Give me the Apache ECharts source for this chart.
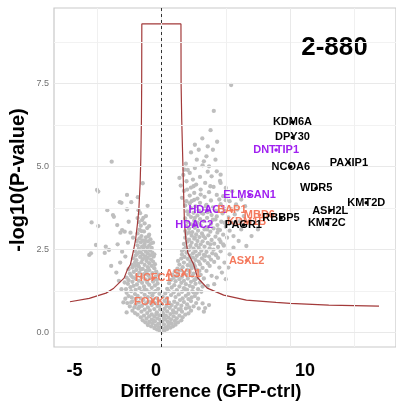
<!DOCTYPE html>
<html>
<head>
<meta charset="utf-8">
<script src="https://cdn.jsdelivr.net/npm/echarts@6/dist/echarts.min.js"></script>
<style>
html,body{margin:0;padding:0;background:#fff;}
#c{width:396px;height:407px;}
</style>
</head>
<body>
<div id="c"></div>
<script>
// ---------------- DATA ----------------
const panelTitle = '2-880';
const xAxisTitle = 'Difference (GFP-ctrl)';
const yAxisTitle = '-log10(P-value)';
const bigXTickLabels = ['-5', '0', '5', '10'];
const yTickValues = [0, 2.5, 5, 7.5];
const xTickValues = [0, 10];
const majorY = [0, 2.5, 5, 7.5];
const minorY = [1.25, 3.75, 6.25, 8.75];
const majorX = [0, 10];
const minorX = [-5, 5, 15];

// threshold curve
const thresholdCurve = [
  [-7.1,0.92],[-5.6,1.02],[-4.8,1.12],[-4.3,1.18],[-3.7,1.33],[-3.3,1.48],[-2.9,1.63],[-2.65,1.88],
  [-2.4,2.05],[-2.15,2.5],[-2.0,2.8],[-1.85,3.3],[-1.75,3.7],[-1.65,4.5],[-1.6,5.2],[-1.55,6.4],
  [-1.53,7.5],[-1.52,9.29],[1.52,9.29],[1.53,7.5],[1.58,6.4],[1.66,5.2],[1.72,4.3],[1.79,3.3],
  [1.9,2.8],[2.05,2.4],[2.5,2.05],[2.8,1.65],[3.56,1.33],[4.84,1.12],[6.6,0.97],[8.9,0.90],
  [10,0.87],[13,0.82],[16.9,0.79]
];

// background proteins (grey)
const bgPoints = [
  [0.05,0.02],[-0.15,0.05],[0.25,0.06],[-0.35,0.09],[0.45,0.1],[0.1,0.1],[-0.55,0.13],[0.7,0.14],[-0.2,0.14],[0.35,0.15],[-0.8,0.18],[0.9,0.18],[0.0,0.19],[-0.45,0.2],[0.55,0.21],[-1.05,0.22],[1.1,0.23],[0.2,0.24],[-0.25,0.25],[0.8,0.27],[-0.7,0.27],
  [-1.25,0.3],[1.3,0.3],[-0.95,0.31],[0.5,0.31],[0.05,0.32],[-0.5,0.33],[1.05,0.34],[-1.45,0.36],[1.55,0.36],[-0.1,0.37],[0.3,0.38],[-0.75,0.38],[0.75,0.39],[-1.15,0.41],[1.2,0.42],[-0.3,0.42],[0.55,0.44],[-1.6,0.45],[1.65,0.45],[0.1,0.46],[-0.55,0.47],[-0.95,0.48],[0.95,0.48],[1.4,0.5],[-1.35,0.5],[0.35,0.5],[-0.15,0.51],
  [-1.85,0.53],[1.85,0.53],[-0.75,0.54],[0.7,0.55],[-2.05,0.58],[2.1,0.57],[-1.1,0.58],[1.15,0.59],[0.1,0.6],[-0.35,0.6],[-1.55,0.62],[1.6,0.62],[0.45,0.63],[-2.25,0.65],[2.3,0.65],[-0.9,0.66],[0.9,0.66],[-1.3,0.68],[1.35,0.69],[-0.1,0.69],[-0.55,0.7],[0.25,0.71],[-1.8,0.72],[1.9,0.72],[0.65,0.74],[-2.1,0.75],[2.15,0.75],[-1.05,0.75],[1.1,0.76],
  [-2.45,0.78],[2.5,0.78],[-0.3,0.79],[0.4,0.79],[-1.5,0.8],[1.55,0.8],[-0.75,0.82],[0.8,0.82],[-2.0,0.83],[2.0,0.84],[0.05,0.85],[-1.2,0.86],[1.25,0.86],[-2.65,0.88],[2.7,0.88],[-0.5,0.88],[0.6,0.89],[3.2,0.87],[-1.75,0.9],[1.75,0.91],[-0.95,0.92],[1.0,0.92],[-2.25,0.93],[2.3,0.94],[-0.2,0.95],[0.25,0.95],[-1.4,0.97],[1.45,0.97],[-0.65,0.98],[2.9,0.72],[3.3,0.62],[3.7,0.82],[3.4,0.73],[-2.7,0.6],
  [-2.8,1.01],[2.85,1.01],[-1.6,1.02],[1.65,1.02],[0.45,1.03],[-0.35,1.03],[-2.3,1.05],[2.35,1.05],[-1.05,1.06],[1.1,1.06],[0.1,1.07],[-2.55,1.09],[2.6,1.09],[-1.85,1.1],[1.9,1.1],[-0.7,1.11],[0.75,1.12],[-1.3,1.13],[1.35,1.14],[-2.05,1.15],[2.1,1.16],[-0.15,1.16],[0.3,1.17],[-2.7,1.19],[2.75,1.19],[-0.9,1.2],[0.95,1.2],[-1.55,1.22],[1.6,1.22],[3.1,1.22],[-2.35,1.24],[2.4,1.24],[-0.45,1.24],[0.55,1.25],
  [-1.15,1.27],[1.2,1.27],[-2.0,1.28],[2.0,1.28],[-2.75,1.3],[2.85,1.3],[-0.25,1.31],[0.45,1.31],[-1.7,1.33],[1.75,1.33],[-0.75,1.34],[0.8,1.35],[-2.4,1.36],[2.45,1.36],[-1.35,1.38],[1.4,1.38],[3.2,1.38],[-2.15,1.4],[2.2,1.4],[-0.5,1.41],[1.0,1.42],[-0.95,1.43],[-1.9,1.44],[1.9,1.45],[-2.6,1.46],[2.65,1.46],[-0.3,1.47],[0.6,1.48],[-1.5,1.49],[1.55,1.49],[-2.85,1.5],[3.0,1.5],[-1.1,1.5],
  [-2.25,1.52],[2.3,1.52],[-0.65,1.53],[1.1,1.54],[-1.75,1.55],[1.75,1.55],[-2.55,1.57],[2.55,1.57],[-0.35,1.58],[0.75,1.58],[-1.25,1.59],[1.4,1.6],[-2.0,1.61],[2.05,1.62],[3.3,1.62],[-0.9,1.63],[0.95,1.64],[-2.7,1.65],[2.8,1.65],[-1.55,1.66],[1.6,1.67],[-0.45,1.68],[1.2,1.69],[-2.35,1.7],[2.4,1.7],[-1.0,1.71],[-1.9,1.72],[1.95,1.73],[3.05,1.73],[0.85,1.74],[-0.2,1.74],[-1.35,1.75],
  [-2.45,1.77],[2.5,1.77],[-0.7,1.78],[1.3,1.78],[-1.7,1.8],[1.75,1.8],[-2.15,1.82],[2.2,1.82],[-0.4,1.83],[1.05,1.84],[-1.2,1.85],[3.5,1.85],[-0.95,1.87],[1.5,1.87],[-1.95,1.88],[2.0,1.88],[2.75,1.89],[-2.55,1.9],[-1.45,1.91],[1.25,1.92],[-0.55,1.93],[2.35,1.93],[3.2,1.94],[-2.25,1.95],[-1.05,1.96],[1.65,1.96],[-1.75,1.98],[2.6,1.99],[-0.75,2.0],[3.75,2.0],
  [-2.25,2.02],[2.05,2.02],[-1.3,2.03],[1.4,2.04],[-0.5,2.05],[3.0,2.05],[-1.8,2.06],[2.5,2.07],[-0.95,2.08],[3.6,2.08],[-2.05,2.1],[1.75,2.1],[-1.55,2.11],[2.25,2.12],[4.1,2.12],[-0.65,2.13],[2.9,2.13],[-1.15,2.15],[1.3,2.15],[3.35,2.16],[-1.95,2.17],[2.65,2.18],[-0.8,2.19],[3.85,2.19],[-1.45,2.2],[2.05,2.21],[1.55,2.22],[-2.2,2.23],[3.15,2.23],[-1.05,2.24],[4.4,2.24],[2.45,2.25],
  [-1.65,2.27],[1.8,2.27],[-0.6,2.28],[3.7,2.28],[-1.25,2.29],[2.75,2.3],[-2.0,2.31],[2.2,2.31],[-0.85,2.32],[4.25,2.32],[3.3,2.33],[-1.45,2.34],[1.6,2.34],[-1.9,2.36],[2.95,2.36],[-1.05,2.37],[2.45,2.38],[3.95,2.38],[-0.7,2.4],[1.95,2.4],[-1.6,2.41],[3.5,2.42],[-1.2,2.43],[2.65,2.44],[4.6,2.44],[-2.05,2.45],[3.1,2.46],[-0.9,2.47],[2.15,2.48],[4.05,2.49],[-1.4,2.5],[1.75,2.5],[-3.05,2.43],[-2.8,2.28],
  [-1.75,2.52],[2.5,2.52],[3.75,2.53],[-0.75,2.54],[2.9,2.55],[-1.1,2.56],[1.9,2.56],[4.4,2.57],[-1.5,2.58],[3.35,2.58],[2.25,2.6],[-0.95,2.61],[4.85,2.61],[-1.85,2.62],[2.7,2.63],[3.05,2.65],[-1.3,2.66],[1.75,2.66],[4.1,2.67],[-0.8,2.68],[3.6,2.69],[2.35,2.7],[-1.6,2.71],[4.6,2.72],[2.0,2.73],[-1.05,2.74],[3.2,2.74],[2.8,2.75],
  [-1.45,2.77],[3.9,2.78],[2.15,2.79],[-0.85,2.8],[4.5,2.8],[2.55,2.82],[-1.7,2.83],[3.4,2.84],[1.85,2.85],[5.1,2.85],[-1.2,2.86],[2.95,2.87],[4.2,2.88],[-1.55,2.9],[2.35,2.91],[3.65,2.92],[-0.95,2.94],[4.8,2.94],[2.7,2.95],[1.95,2.97],[3.15,2.98],[-1.85,2.98],[4.35,3.0],[-3.18,3.0],
  [2.4,3.02],[3.8,3.03],[-1.35,3.04],[1.85,3.05],[2.85,3.06],[5.3,3.06],[4.55,3.08],[-1.7,3.09],[3.35,3.1],[2.15,3.12],[-3.05,3.08],[-2.85,3.03],[4.05,3.13],[-1.1,3.14],[2.6,3.15],[3.6,3.17],[5.0,3.18],[1.95,3.2],[-1.6,3.21],[3.05,3.22],[4.35,3.23],[-3.43,3.23],[-4.9,3.2],[-5.42,3.31],[2.35,3.25],[3.85,3.27],[-1.3,3.28],[2.75,3.29],[5.5,3.3],
  [-1.75,3.32],[2.05,3.32],[4.65,3.33],[3.3,3.35],[-2.54,3.33],[2.55,3.37],[-1.5,3.38],[4.0,3.39],[3.0,3.41],[1.85,3.43],[-1.85,3.44],[3.55,3.45],[5.2,3.46],[2.3,3.47],[-3.69,3.48],[4.3,3.49],[-1.2,3.5],[2.8,3.52],[3.9,3.53],[-3.76,3.53],[2.1,3.55],[3.25,3.57],[4.75,3.58],[-1.65,3.59],[2.5,3.6],
  [3.6,3.62],[-2.67,3.7],[-4.2,3.68],[2.0,3.64],[4.25,3.66],[2.9,3.68],[-1.78,3.68],[3.3,3.72],[5.4,3.72],[2.3,3.74],[-1.07,3.81],[4.0,3.76],[2.65,3.79],[1.85,3.82],[3.5,3.84],[4.6,3.86],[-3.23,3.92],[-2.34,3.92],[-3.1,3.9],[2.2,3.88],[3.0,3.9],[-1.83,4.07],[1.95,3.95],[3.85,3.97],[2.55,3.99],[5.0,3.98],
  [2.8,4.03],[1.6,4.05],[3.35,4.08],[-2.67,4.14],[2.2,4.12],[4.3,4.14],[2.55,4.2],[3.7,4.22],[1.75,4.26],[-5.0,4.29],[-4.9,4.24],[3.05,4.3],[2.3,4.36],[4.05,4.38],[1.5,4.42],[-1.45,4.49],[2.7,4.45],[3.4,4.5],[1.95,4.55],[4.55,4.56],[2.45,4.6],
  [1.4,4.65],[3.0,4.68],[1.7,4.74],[2.2,4.8],[3.6,4.84],[2.05,4.89],[2.6,4.95],[3.2,5.03],[-3.86,5.14],[1.9,5.08],[2.75,5.2],[3.5,5.3],[2.3,5.42],[4.0,5.5],
  [3.18,5.84],[4.33,5.74],[3.82,6.09],[2.6,5.65],[4.07,6.67],[5.42,7.45],
  [4.9,2.1],[5.3,2.35],[5.6,2.55],[5.2,1.95],[4.7,1.8],[5.6,2.9],[6.0,2.75],[5.8,3.3],[6.2,3.1],[7.0,2.9],[5.0,1.6],[4.3,1.65],[4.5,1.95],[3.9,1.7],[4.1,1.45],[3.6,1.4],[6.4,3.5],[5.9,3.7],[6.6,2.6],[7.5,3.1],[4.8,2.65],
  [4.8,4.1],[5.3,3.95],[5.8,3.85],[6.2,4.0],[5.0,4.35],[4.6,4.5],[5.5,4.25],[3.9,4.7],[4.3,4.85],[3.7,5.0],[4.6,4.75],[6.5,3.8],[5.7,3.55],[6.1,3.35],[5.0,3.7],[4.5,4.0],[3.3,5.15],[2.9,5.5],[4.2,5.2],[3.6,5.6],
  [-5.08,2.63],[-5.47,2.38],[-4.32,2.58],[-4.07,2.48],[-5.6,2.33],[-4.4,2.39],[-3.2,2.1],[-3.5,1.8],[-3.9,2.0],[-3.3,1.55],[-3.1,1.3],[-2.95,0.9],[-3.4,2.65],[-2.6,2.7],[-2.4,3.0],[-2.2,2.85],
  [-0.6,0.35],[0.65,0.28],[-0.05,0.28],[0.2,0.42],[-0.4,0.55],[0.95,0.6],[-1.7,0.77],[1.5,0.7],[-2.35,0.9],[2.1,1.0],[-1.1,0.9],[0.45,0.9],[-0.1,0.8],[0.15,0.53],
  [-2.0,1.0],[-1.3,1.3],[-0.6,1.2],[-2.2,1.65],[-1.1,1.75],[-0.55,1.6],[-2.0,2.0],[-1.6,1.9],[-1.25,2.25],[-0.55,2.35],[-1.75,2.4],[-1.35,2.6],[-1.0,2.9],[-1.25,2.75],[-0.65,2.7],[-1.55,3.05],[-1.9,2.75],[-0.95,3.2],[-1.4,3.45],
  [2.5,1.2],[1.85,1.3],[2.65,1.6],[2.95,1.85],[3.4,2.3],[2.3,2.0],[1.6,2.45],[2.6,2.85],[3.25,2.9],[3.8,2.65],[4.2,2.35],[2.15,3.0],[3.55,3.1],[4.2,3.4],[2.6,3.45],[3.45,3.8],[2.8,3.3],[3.1,3.6],[4.4,3.1],[4.9,3.3],[2.35,3.95],[3.05,4.15],[2.0,4.3],[3.8,4.4],[2.5,4.4],[1.8,4.9]
];

// labelled proteins
const blackNames = ['KDM6A','DPY30','PAXIP1','NCOA6','WDR5','KMT2D','ASH2L','KMT2C','PAGR1','RBBP5'];
const blackX     = [10.18, 10.18, 14.56, 10.05, 12.02, 15.91, 13.11, 12.85, 6.37, 9.29];
const blackY     = [6.33, 5.87, 5.11, 4.99, 4.34, 3.90, 3.67, 3.28, 3.23, 3.44];

const purpleNames = ['DNTTIP1','ELMSAN1','HDAC1','HDAC2'];
const purpleX     = [8.91, 6.85, 3.57, 2.55];
const purpleY     = [5.49, 4.14, 3.68, 3.23];

const orangeNames = ['BAP1','KDM1B','MBD6','ASXL1','ASXL2','HCFC1','FOXK1'];
const orangeX     = [5.47, 6.62, 7.61, 1.68, 6.62, -0.63, -0.71];
const orangeY     = [3.68, 3.32, 3.53, 1.75, 2.16, 1.63, 0.92];

// ---------------- STYLE / LAYOUT ----------------
const labelOffsets = {
  KDM6A:[-5.5,6], DPY30:[13,7], PAXIP1:[6.5,-5], NCOA6:[-4,6], WDR5:[6,-5], KMT2D:[6.5,-5],
  ASH2L:[-4.5,6.5], KMT2C:[-6.5,5.5], PAGR1:[15,5], RBBP5:[5.5,-3],
  DNTTIP1:[-12.5,-1], ELMSAN1:[-6,6], HDAC1:[0,3], HDAC2:[-4,6],
  BAP1:[3,2.5], KDM1B:[-4,4], MBD6:[17.5,-2], ASXL1:[4.7,-4.3], ASXL2:[-2,4.3], HCFC1:[-6.5,5.7], FOXK1:[6,-4.7]
};
const FONT = '"Liberation Sans", Arial, Helvetica, sans-serif';
const COL_BLACK = '#000000', COL_PURPLE = '#A020F0', COL_ORANGE = '#F47A5E';

function labelled(names, xs, ys) {
  return names.map((n, i) => ({
    name: n,
    value: [xs[i], ys[i]],
    label: { offset: labelOffsets[n] }
  }));
}
function labelSeries(names, xs, ys, color, z) {
  return {
    type: 'scatter', z: z, silent: true,
    symbolSize: 3.5,
    itemStyle: { color: color, opacity: 1 },
    data: labelled(names, xs, ys),
    label: {
      show: true, position: 'inside', formatter: '{b}', opacity: 1,
      color: color, fontFamily: FONT, fontWeight: 'bold', fontSize: 11,
      align: 'center', verticalAlign: 'middle', textBorderWidth: 0
    },
    labelLayout: { hideOverlap: false }
  };
}

const gridLines = []
  .concat(minorY.map(v => ({ yAxis: v, lineStyle: { color: '#F2F2F2', width: 1, type: 'solid' } })))
  .concat(minorX.map(v => ({ xAxis: v, lineStyle: { color: '#F0F0F0', width: 1, type: 'solid' } })))
  .concat(majorY.map(v => ({ yAxis: v, lineStyle: { color: '#E9E9E9', width: 1, type: 'solid' } })))
  .concat(majorX.map(v => ({ xAxis: v, lineStyle: { color: '#E9E9E9', width: 1, type: 'solid' } })));

function bigText(x, y, text, size, extra) {
  return Object.assign({
    type: 'text', x: x, y: y, silent: true,
    style: { text: text, font: 'bold ' + size + 'px ' + FONT, fill: '#000', textAlign: 'center', textVerticalAlign: 'middle' }
  }, extra || {});
}

const chart = echarts.init(document.getElementById('c'), null, { renderer: 'canvas' });
chart.setOption({
  animation: false,
  backgroundColor: '#ffffff',
  grid: { left: 54, right: -6, top: 8, bottom: 60, show: true, borderColor: '#C9C9C9', borderWidth: 1.2, backgroundColor: 'transparent' },
  xAxis: {
    type: 'value', min: -8.34, max: 18.22,
    axisLine: { show: false },
    splitLine: { show: false },
    axisTick: { show: true, customValues: xTickValues, length: 3, lineStyle: { color: '#BBBBBB' } },
    axisLabel: { show: false }
  },
  yAxis: {
    type: 'value', min: -0.443, max: 9.77,
    axisLine: { show: false },
    splitLine: { show: false },
    axisTick: { show: true, customValues: yTickValues, length: 3, lineStyle: { color: '#AAAAAA' } },
    axisLabel: {
      show: true, customValues: yTickValues, margin: 5,
      formatter: v => v.toFixed(1),
      color: '#707070', fontSize: 9, fontFamily: FONT
    }
  },
  graphic: [
    bigText(334.5, 48, panelTitle, 26),
    bigText(211, 391.5, xAxisTitle, 18.5),
    bigText(18.5, 180, yAxisTitle, 20, { rotation: Math.PI / 2 }),
    bigText(74.5, 371, bigXTickLabels[0], 18),
    bigText(156, 371, bigXTickLabels[1], 18),
    bigText(231, 371, bigXTickLabels[2], 18),
    bigText(305, 371, bigXTickLabels[3], 18)
  ],
  series: [
    {
      type: 'line', z: 1, silent: true, data: [], showSymbol: false,
      markLine: { silent: true, symbol: 'none', label: { show: false }, animation: false, data: gridLines }
    },
    {
      type: 'scatter', z: 2, silent: true, symbolSize: 4.3,
      itemStyle: { color: '#BEBEBE', opacity: 1 },
      data: bgPoints
    },
    {
      type: 'line', z: 3, silent: true, data: thresholdCurve, showSymbol: false, smooth: false,
      lineStyle: { color: '#A33A3A', width: 1.2 },
      markLine: {
        silent: true, symbol: 'none', label: { show: false }, animation: false,
        data: [{ xAxis: 0, lineStyle: { color: '#333333', width: 1, type: [3, 3] } }]
      }
    },
    labelSeries(purpleNames, purpleX, purpleY, COL_PURPLE, 5),
    labelSeries(orangeNames, orangeX, orangeY, COL_ORANGE, 6),
    labelSeries(blackNames, blackX, blackY, COL_BLACK, 7)
  ]
});
</script>
</body>
</html>
